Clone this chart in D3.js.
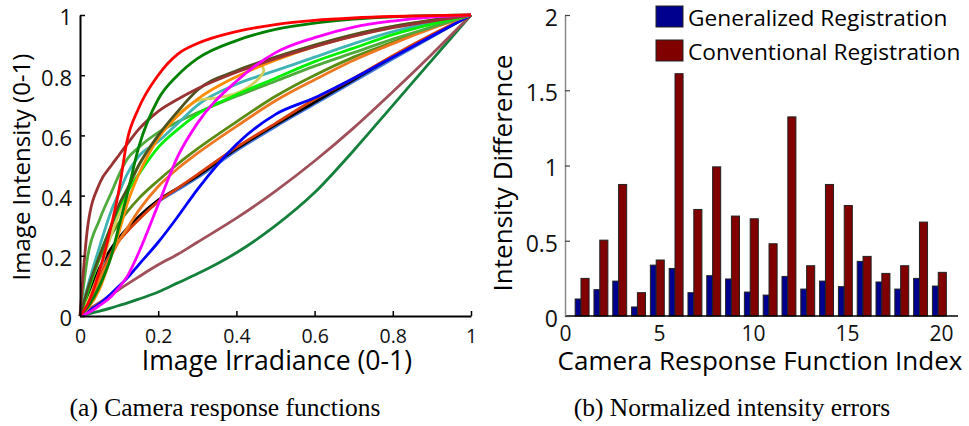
<!DOCTYPE html>
<html>
<head>
<meta charset="utf-8">
<script src="https://cdn.jsdelivr.net/npm/d3@7"></script>
<style>
  body { margin: 0; background: #fff; }
  svg { display: block; font-family: "Open Sans", Lato, sans-serif; }
  .caption { font-family: "Liberation Serif", serif; }
</style>
</head>
<body>
<svg id="fig" width="969" height="426"></svg>
<script>
// irradiance samples shared by most response curves
var irradiance = [0, 0.02, 0.05, 0.08, 0.1, 0.12, 0.15, 0.2, 0.25, 0.3, 0.4, 0.5, 0.6, 0.7, 0.8, 0.9, 1];

// intensity values for each curve
var seaGreen    = [0, .006, .016, .027, .035, .043, .056, .08, .11, .14, .21, .3, .41, .55, .7, .85, 1];
var mauve       = [0, .02, .045, .07, .088, .105, .13, .17, .205, .245, .325, .415, .515, .625, .745, .87, 1];
var cornflower  = [0, .055, .15, .218, .253, .283, .323, .378, .418, .458, .548, .628, .703, .778, .853, .926, 1];
var black       = [0, .06, .16, .225, .26, .29, .33, .385, .425, .465, .555, .635, .71, .785, .86, .93, 1];
var orangeRed   = [0, .04, .13, .21, .25, .28, .32, .38, .425, .47, .56, .64, .72, .79, .865, .935, 1];
var blue        = [0, .015, .04, .075, .1, .125, .17, .245, .33, .42, .57, .67, .725, .79, .86, .93, 1];
var olive       = [0, .08, .19, .27, .31, .345, .39, .45, .505, .555, .645, .73, .8, .86, .91, .96, 1];
var orangeLow   = [0, .035, .12, .2, .25, .29, .35, .43, .49, .54, .63, .715, .785, .85, .905, .955, 1];
var mediumGreen = [0, .2, .32, .41, .47, .52, .56, .61, .645, .675, .73, .78, .83, .875, .92, .96, 1];
var teal        = [0, .1, .23, .35, .41, .47, .53, .58, .64, .7, .77, .815, .86, .905, .945, .975, 1];
var brightGreen = [0, .08, .2, .3, .36, .41, .47, .56, .62, .67, .735, .79, .845, .89, .935, .97, 1];
var orangeHigh  = [0, .025, .09, .2, .28, .37, .47, .59, .665, .72, .795, .85, .895, .93, .96, .982, 1];
var darkOlive   = [0, .09, .2, .3, .37, .42, .5, .6, .68, .75, .815, .86, .9, .935, .962, .983, 1];
var brown       = [0, .3, .44, .5, .535, .57, .62, .68, .72, .755, .81, .855, .895, .93, .958, .98, 1];
var darkGreen   = [0, .03, .1, .2, .3, .4, .56, .72, .8, .855, .915, .952, .973, .986, .994, .998, 1];
var magenta     = [0, .01, .035, .065, .095, .13, .21, .37, .53, .64, .78, .875, .925, .96, .98, .993, 1];
var red         = [0, .04, .15, .3, .42, .58, .69, .8, .87, .905, .945, .968, .982, .99, .995, .998, 1];

// the khaki curve folds back on itself, so it keeps its own irradiance samples
var khakiX = [0, .02, .05, .08, .1, .12, .15, .2, .25, .3, .35, .4, .45, .47, .465, .5, .6, .7, .8, .9, 1];
var khakiY = [0, .05, .15, .27, .34, .41, .5, .6, .67, .715, .725, .74, .78, .815, .84, .86, .9, .935, .962, .983, 1];

// bar chart values
var crfIndex     = d3.range(1, 21);
var generalized  = [.113, .175, .232, .06, .338, .316, .155, .268, .246, .159, .139, .263, .179, .232, .195, .363, .226, .179, .25, .199];
var conventional = [.25, .504, .874, .155, .372, 1.61, .708, .991, .664, .646, .48, 1.323, .334, .874, .734, .396, .283, .334, .624, .29];

var svg = d3.select('#fig');

// ---------- (a) camera response functions ----------
var xL = d3.scaleLinear().domain([0, 1]).range([80, 471]);
var yL = d3.scaleLinear().domain([0, 1]).range([316, 15]);

var curves = [
  {y: seaGreen, color: '#15803c'},
  {y: mauve, color: '#a0505a'},
  {y: cornflower, color: '#4477dd', width: 2.2},
  {y: black, color: '#000000'},
  {y: orangeRed, color: '#d93d0b'},
  {y: blue, color: '#0000ff'},
  {y: olive, color: '#5a8c14'},
  {y: orangeLow, color: '#ee7722'},
  {y: mediumGreen, color: '#4faa3c'},
  {y: teal, color: '#40b4b4'},
  {x: khakiX, y: khakiY, color: '#d4cf5a'},
  {y: brightGreen, color: '#00f000'},
  {y: orangeHigh, color: '#ff8c00'},
  {y: darkOlive, color: '#4b5320'},
  {y: brown, color: '#993333'},
  {y: darkGreen, color: '#008000'},
  {y: magenta, color: '#ff00ff'},
  {y: red, color: '#ff0000'}
];

var lineMono = d3.line().x(function(d) { return xL(d[0]); }).y(function(d) { return yL(d[1]); })
  .curve(d3.curveMonotoneX);
var lineFree = d3.line().x(function(d) { return xL(d[0]); }).y(function(d) { return yL(d[1]); })
  .curve(d3.curveCatmullRom);

var gL = svg.append('g');
curves.forEach(function(c) {
  var xs = c.x || irradiance;
  var pts = xs.map(function(x, i) { return [x, c.y[i]]; });
  gL.append('path')
    .attr('d', (c.x ? lineFree : lineMono)(pts))
    .attr('fill', 'none')
    .attr('stroke', c.color)
    .attr('stroke-width', c.width || 2.8)
    .attr('stroke-linejoin', 'round');
});

// axes (box off, ticks inward)
var axL = gL.append('g')
  .attr('transform', 'translate(0,316)')
  .call(d3.axisBottom(xL).tickValues([0, .2, .4, .6, .8, 1]).tickFormat(d3.format('')).tickSizeInner(-5).tickSizeOuter(0).tickPadding(13));
var ayL = gL.append('g')
  .attr('transform', 'translate(80,0)')
  .call(d3.axisLeft(yL).tickValues([0, .2, .4, .6, .8, 1]).tickFormat(d3.format('')).tickSizeInner(-5).tickSizeOuter(0).tickPadding(8));
[axL, ayL].forEach(function(a) {
  a.select('.domain').attr('stroke', '#000').attr('stroke-width', 2);
  a.selectAll('.tick line').attr('stroke', '#000').attr('stroke-width', 1.5);
  a.selectAll('.tick text').attr('fill', '#111').style('font-family', '"Open Sans"');
});
axL.selectAll('.tick text').style('font-size', '19.5px');
ayL.selectAll('.tick text').style('font-size', '22px').attr('dy', '0.45em');

svg.append('text')
  .attr('x', 277).attr('y', 370)
  .attr('text-anchor', 'middle')
  .style('font-size', '26.6px')
  .text('Image Irradiance (0-1)');
svg.append('text')
  .attr('transform', 'translate(30,167) rotate(-90)')
  .attr('text-anchor', 'middle')
  .style('font-size', '24px')
  .text('Image Intensity (0-1)');

// ---------- (b) normalized intensity errors ----------
var xR = d3.scaleLinear().domain([0, 20.9]).range([565, 958]);
var yR = d3.scaleLinear().domain([0, 2]).range([316, 15]);

var gR = svg.append('g');
gR.selectAll('rect.gen')
  .data(crfIndex)
  .enter()
  .append('rect')
    .classed('gen', true)
    .attr('x', function(d) { return xR(d - 0.46); })
    .attr('width', xR(0.31) - xR(0))
    .attr('y', function(d, i) { return yR(generalized[i]); })
    .attr('height', function(d, i) { return yR(0) - yR(generalized[i]); })
    .attr('fill', '#00008f')
    .attr('stroke', '#222')
    .attr('stroke-width', 1);
gR.selectAll('rect.conv')
  .data(crfIndex)
  .enter()
  .append('rect')
    .classed('conv', true)
    .attr('x', function(d) { return xR(d - 0.15); })
    .attr('width', xR(0.43) - xR(0))
    .attr('y', function(d, i) { return yR(conventional[i]); })
    .attr('height', function(d, i) { return yR(0) - yR(conventional[i]); })
    .attr('fill', '#800000')
    .attr('stroke', '#222')
    .attr('stroke-width', 1);

var axR = gR.append('g')
  .attr('transform', 'translate(0,316)')
  .call(d3.axisBottom(xR).tickValues([0, 5, 10, 15, 20]).tickSize(0).tickPadding(10));
axR.select('.domain').attr('d', 'M565,0H958').attr('stroke', '#000').attr('stroke-width', 1.5);
var ayR = gR.append('g')
  .attr('transform', 'translate(565,0)')
  .call(d3.axisLeft(yR).tickValues([0, .5, 1, 1.5, 2]).tickFormat(d3.format('')).tickSizeInner(-5).tickSizeOuter(0).tickPadding(7));
ayR.select('.domain').attr('stroke', '#888').attr('stroke-width', 1.5);
ayR.selectAll('.tick line').attr('stroke', '#444').attr('stroke-width', 1.2);
[axR, ayR].forEach(function(a) {
  a.selectAll('.tick text').attr('fill', '#111').style('font-family', '"Open Sans"');
});
axR.selectAll('.tick text').style('font-size', '21px');
ayR.selectAll('.tick text').style('font-size', '23px').attr('dy', '0.45em');

svg.append('text')
  .attr('x', 760).attr('y', 370)
  .attr('text-anchor', 'middle')
  .style('font-size', '26px')
  .text('Camera Response Function Index');
svg.append('text')
  .attr('transform', 'translate(512,173) rotate(-90)')
  .attr('text-anchor', 'middle')
  .style('font-size', '26px')
  .text('Intensity Difference');

// legend
var legendItems = [
  {label: 'Generalized Registration', color: '#00008f'},
  {label: 'Conventional Registration', color: '#800000'}
];
var legend = svg.append('g');
legendItems.forEach(function(item, i) {
  legend.append('rect')
    .attr('x', 656).attr('y', 6 + i * 34)
    .attr('width', 27).attr('height', 21)
    .attr('fill', item.color)
    .attr('stroke', '#222');
  legend.append('text')
    .attr('x', 688).attr('y', 26 + i * 34)
    .style('font-size', '22.7px')
    .text(item.label);
});

// captions
svg.append('text').classed('caption', true)
  .attr('x', 225).attr('y', 416)
  .attr('text-anchor', 'middle')
  .style('font-size', '25.5px')
  .text('(a) Camera response functions');
svg.append('text').classed('caption', true)
  .attr('x', 732).attr('y', 416)
  .attr('text-anchor', 'middle')
  .style('font-size', '25.5px')
  .text('(b) Normalized intensity errors');
</script>
</body>
</html>
